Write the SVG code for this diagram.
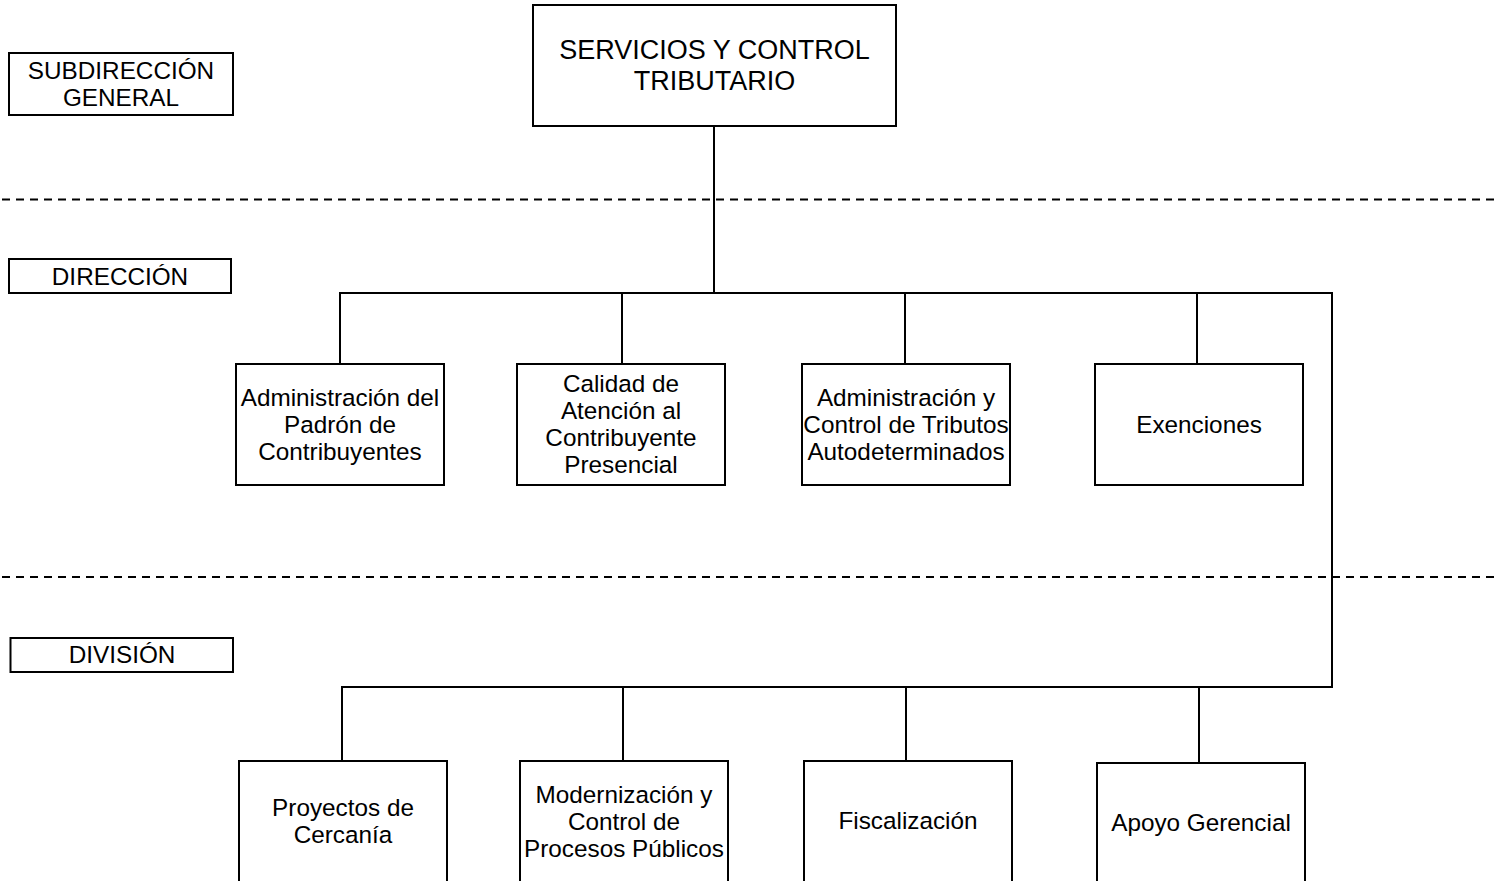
<svg xmlns="http://www.w3.org/2000/svg" width="1499" height="881" viewBox="0 0 1499 881">
<style>
.box{fill:#fff;stroke:#000;stroke-width:2}
.t{font-family:"Liberation Sans",Arial,sans-serif;font-size:24.3px;fill:#000;text-anchor:middle}
.tb{font-family:"Liberation Sans",Arial,sans-serif;font-size:27px;fill:#000;text-anchor:middle}
.ln{fill:none;stroke:#000;stroke-width:2}
.dash{fill:none;stroke:#000;stroke-width:2;stroke-dasharray:8 6}
</style>
<rect width="1499" height="881" fill="#fff"/>
<g id="separators">
<line class="dash" x1="2" y1="199.5" x2="1499" y2="199.5"/>
<line class="dash" x1="2" y1="577" x2="1499" y2="577"/>
</g>
<g id="connectors">
<line class="ln" x1="714" y1="126" x2="714" y2="293"/>
<polyline class="ln" points="340,364 340,293 1332,293 1332,687 342,687 342,761"/>
<line class="ln" x1="622" y1="293" x2="622" y2="364"/>
<line class="ln" x1="905" y1="293" x2="905" y2="364"/>
<line class="ln" x1="1197" y1="293" x2="1197" y2="364"/>
<line class="ln" x1="623" y1="687" x2="623" y2="761"/>
<line class="ln" x1="906" y1="687" x2="906" y2="761"/>
<line class="ln" x1="1199" y1="687" x2="1199" y2="763"/>
</g>
<g id="lbl-subdireccion">
<rect class="box" x="9" y="53" width="224" height="62"/>
<text class="t" x="121" y="79">SUBDIRECCIÓN</text>
<text class="t" x="121" y="106">GENERAL</text>
</g>
<g id="lbl-direccion">
<rect class="box" x="9" y="259" width="222" height="34"/>
<text class="t" x="120" y="285">DIRECCIÓN</text>
</g>
<g id="lbl-division">
<rect class="box" x="10.5" y="638" width="222.5" height="34"/>
<text class="t" x="122" y="663">DIVISIÓN</text>
</g>
<g id="n-root">
<rect class="box" x="533" y="5" width="363" height="121"/>
<text class="tb" x="714.5" y="59">SERVICIOS Y CONTROL</text>
<text class="tb" x="714.5" y="90">TRIBUTARIO</text>
</g>
<g id="n-padron">
<rect class="box" x="236" y="364" width="208" height="121"/>
<text class="t" x="340" y="406">Administración del</text>
<text class="t" x="340" y="433">Padrón de</text>
<text class="t" x="340" y="460">Contribuyentes</text>
</g>
<g id="n-calidad">
<rect class="box" x="517" y="364" width="208" height="121"/>
<text class="t" x="621" y="392">Calidad de</text>
<text class="t" x="621" y="419">Atención al</text>
<text class="t" x="621" y="446">Contribuyente</text>
<text class="t" x="621" y="473">Presencial</text>
</g>
<g id="n-autodeterminados">
<rect class="box" x="802" y="364" width="208" height="121"/>
<text class="t" x="906" y="406">Administración y</text>
<text class="t" x="906" y="433">Control de Tributos</text>
<text class="t" x="906" y="460">Autodeterminados</text>
</g>
<g id="n-exenciones">
<rect class="box" x="1095" y="364" width="208" height="121"/>
<text class="t" x="1199" y="433">Exenciones</text>
</g>
<g id="n-cercania">
<rect class="box" x="239" y="761" width="208" height="130"/>
<text class="t" x="343" y="816">Proyectos de</text>
<text class="t" x="343" y="843">Cercanía</text>
</g>
<g id="n-modernizacion">
<rect class="box" x="520" y="761" width="208" height="130"/>
<text class="t" x="624" y="803">Modernización y</text>
<text class="t" x="624" y="830">Control de</text>
<text class="t" x="624" y="857">Procesos Públicos</text>
</g>
<g id="n-fiscalizacion">
<rect class="box" x="804" y="761" width="208" height="130"/>
<text class="t" x="908" y="829">Fiscalización</text>
</g>
<g id="n-apoyo">
<rect class="box" x="1097" y="763" width="208" height="130"/>
<text class="t" x="1201" y="831">Apoyo Gerencial</text>
</g>
</svg>
